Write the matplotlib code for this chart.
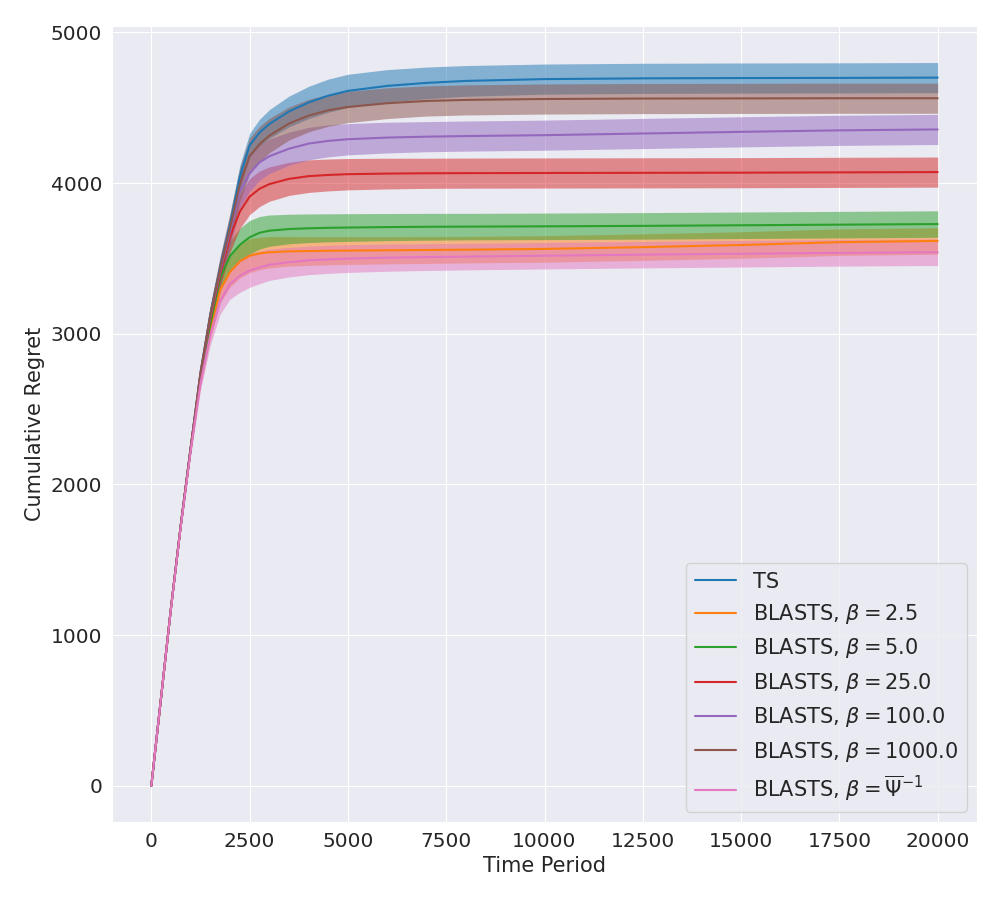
import numpy as np
import matplotlib
matplotlib.use('Agg')
import matplotlib.pyplot as plt
import seaborn as sns

t = [0, 250, 500, 750, 1000, 1250, 1500, 1750, 2000, 2250, 2500, 2750, 3000,
     3500, 4000, 4500, 5000, 6000, 7000, 8000, 10000, 12500, 15000, 17500, 20000]

# mean cumulative regret per method
ts     = [0, 590, 1180, 1730, 2240, 2740, 3130, 3440, 3720, 4040, 4250, 4335, 4392,
          4475, 4535, 4580, 4612, 4645, 4665, 4678, 4690, 4695, 4697, 4698, 4700]
b_2_5  = [0, 590, 1180, 1730, 2235, 2700, 3030, 3290, 3410, 3480, 3518, 3533, 3541,
          3547, 3549, 3551, 3552, 3554, 3556, 3558, 3563, 3575, 3589, 3608, 3616]
b_5    = [0, 590, 1180, 1730, 2235, 2710, 3060, 3370, 3515, 3590, 3640, 3670, 3684,
          3695, 3700, 3703, 3705, 3708, 3710, 3711, 3713, 3716, 3720, 3724, 3728]
b_25   = [0, 590, 1180, 1730, 2240, 2730, 3100, 3395, 3640, 3810, 3910, 3962, 3993,
          4028, 4046, 4054, 4059, 4063, 4065, 4066, 4067, 4068, 4069, 4071, 4073]
b_100  = [0, 590, 1180, 1730, 2240, 2735, 3115, 3415, 3675, 3945, 4065, 4137, 4178,
          4228, 4262, 4280, 4291, 4302, 4308, 4312, 4318, 4329, 4340, 4350, 4356]
b_1000 = [0, 590, 1180, 1730, 2240, 2740, 3125, 3430, 3700, 3990, 4180, 4258, 4315,
          4395, 4448, 4483, 4505, 4530, 4545, 4552, 4558, 4561, 4562, 4563, 4563]
b_psi  = [0, 590, 1175, 1720, 2220, 2670, 2990, 3215, 3330, 3385, 3420, 3440, 3458,
          3475, 3487, 3494, 3499, 3505, 3509, 3512, 3518, 3525, 3531, 3537, 3541]

# half width of the shaded bands
hw_ts    = [0, 5, 10, 16, 24, 35, 48, 60, 70, 76, 80, 88, 95,
            102, 107, 110, 110, 108, 105, 102, 100, 100, 100, 100, 100]
hw_big   = [0, 5, 10, 18, 28, 45, 65, 85, 100, 112, 120, 118, 114,
            110, 108, 106, 104, 102, 100, 100, 100, 100, 100, 100, 100]
hw_small = [0, 5, 10, 18, 28, 45, 65, 85, 100, 110, 112, 108, 104,
            98, 95, 93, 92, 90, 89, 88, 88, 88, 88, 88, 88]

labels = ['TS',
          r'BLASTS, $\beta = 2.5$',
          r'BLASTS, $\beta = 5.0$',
          r'BLASTS, $\beta = 25.0$',
          r'BLASTS, $\beta = 100.0$',
          r'BLASTS, $\beta = 1000.0$',
          r'BLASTS, $\beta = \overline{\Psi}^{-1}$']
series = [ts, b_2_5, b_5, b_25, b_100, b_1000, b_psi]
widths = [hw_ts, hw_small, hw_small, hw_big, hw_big, hw_big, hw_small]
cores = ['tab:blue', 'tab:orange', 'tab:green', 'tab:red', 'tab:purple', 'tab:brown', 'tab:pink']

sns.set_style('darkgrid')
plt.rcParams['font.family'] = ['DejaVu Sans']
plt.rcParams['font.size'] = 15

fig = plt.figure(figsize=(10, 9), dpi=100)
ax = fig.add_axes([0.112, 0.0867, 0.865, 0.884])

x = np.array(t)
for y, hw, lab, c in zip(series, widths, labels, cores):
    y = np.array(y)
    hw = np.array(hw)
    ax.plot(x, y, color=c, lw=1.5, label=lab)
    ax.fill_between(x, y - hw, y + hw, color=c, alpha=0.5, lw=0)

ax.set_xlabel('Time Period', fontsize=15)
ax.set_ylabel('Cumulative Regret', fontsize=15)
ax.tick_params(labelsize=14.5)
ax.set_xticks([0, 2500, 5000, 7500, 10000, 12500, 15000, 17500, 20000])
ax.legend(loc='lower right', fontsize=15)

plt.savefig('out.png')
